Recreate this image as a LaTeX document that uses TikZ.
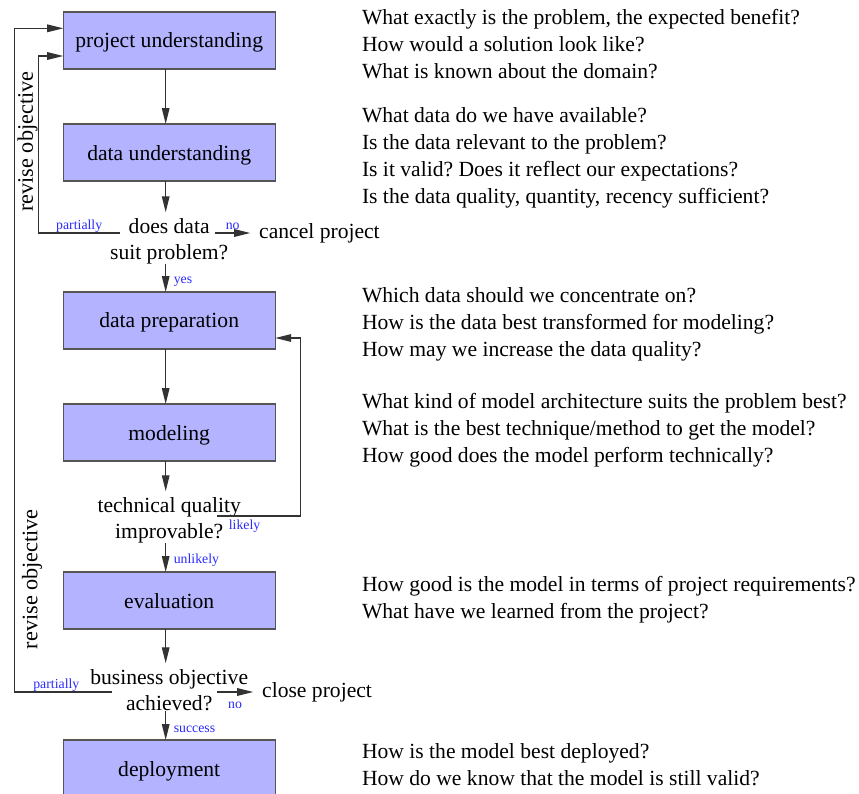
\documentclass[tikz,border=0pt]{standalone}
\usepackage{fontspec}
\setmainfont{Liberation Serif}
\usetikzlibrary{arrows.meta,positioning,calc}
\frenchspacing
\definecolor{phase}{HTML}{B3B3FF}
\definecolor{ink}{HTML}{333333}
\definecolor{edge}{HTML}{555555}
\definecolor{branch}{HTML}{2A2AFF}
\tikzset{
  >={Triangle[length=8pt,width=3.8pt]},
  every node/.style={font=\fontsize{10.8}{13.5}\selectfont,text=black},
  phasebox/.style={draw=edge,fill=phase,line width=0.6pt,minimum width=106pt,minimum height=28.5pt,inner sep=0pt,outer sep=0pt,text depth=0pt},
  decision/.style={align=center,inner xsep=3pt,inner ysep=0pt,outer sep=0pt,font=\fontsize{10.8}{13}\selectfont},
  outcome/.style={inner xsep=4.5pt,inner ysep=1pt,outer sep=0pt},
  questions/.style={align=left,inner sep=0pt},
  arrow/.style={->,line width=0.6pt,draw=ink},
  flow/.style={arrow,transform canvas={xshift=-1.75pt}},
  into/.style={flow,shorten >=3pt},
  tag/.style={font=\fontsize{6.9}{8}\selectfont,text=branch,inner sep=1.5pt},
  sidetag/.style={tag,right,xshift=2.25pt},
  revise/.style={sloped,inner sep=0pt,font=\fontsize{11.1}{13}\selectfont},
}

\begin{document}
\begin{tikzpicture}[node distance=27.5pt]
\useasboundingbox (0,0) rectangle (429.5pt,-397pt);

% phases
\node[phasebox] (pu) at (84.6pt,-20.25pt) {project understanding};
\node[phasebox,below=of pu] (du) {data understanding};
\node[decision,below=18.65pt of du] (dec1) {does data\\suit problem?};
\node[phasebox,below=55.5pt of du] (dp) {data preparation};
\node[phasebox,below=of dp] (mod) {modeling};
\node[decision,below=18.15pt of mod] (dec2) {technical quality\\improvable?};
\node[phasebox,below=55.5pt of mod] (ev) {evaluation};
\node[decision,below=20.15pt of ev] (dec3) {business objective\\achieved?};
\node[phasebox,below=55.5pt of ev] (dep) {deployment};

% branch ends at the decisions
\coordinate (d1l) at ([shift={(-24.5pt,-7.35pt)}]dec1.north);
\coordinate (d1r) at ([shift={(23pt,-7.35pt)}]dec1.north);
\coordinate (d2r) at ([shift={(24pt,-9.35pt)}]dec2.north);
\coordinate (d3l) at ([shift={(-28.5pt,-11.35pt)}]dec3.north);
\coordinate (d3r) at ([shift={(23.85pt,-11.35pt)}]dec3.north);

\node[outcome,right=17.5pt of d1r] (cancel) {cancel project};
\node[outcome,right=18.15pt of d3r] (close) {close project};

% main flow
\draw[flow] (pu.south) -- (du.north);
\draw[into] (du.south) -- (dec1.north);
\draw[flow] (dec1.south) -- node[sidetag,pos=0.62]{yes} (dp.north);
\draw[flow] (dp.south) -- (mod.north);
\draw[into] (mod.south) -- (dec2.north);
\draw[flow] (dec2.south) -- node[sidetag,pos=0.59]{unlikely} (ev.north);
\draw[into] (ev.south) -- (dec3.north);
\draw[flow] (dec3.south) -- node[sidetag,pos=0.62]{success} (dep.north);

% exits
\draw[arrow] (d1r) -- node[tag,above]{no} (cancel);
\draw[arrow] (d3r) -- node[tag,below,yshift=-3pt]{no} (close);

% loops back
\draw[arrow] (d1l) -- node[tag,above,inner sep=0pt]{partially} ++(-41pt,0) |- node[revise,above,pos=0.258]{revise objective} ([yshift=-7.75pt]pu.west);
\draw[arrow] (d3l) -- node[tag,above,pos=0.57,inner sep=0pt]{partially} ++(-49pt,0) |- node[revise,below,pos=0.085,inner sep=3.6pt]{revise objective} ([yshift=6.1pt]pu.west);
\draw[arrow] (d2r) -- node[tag,below,pos=0.33]{likely} ++(41.5pt,0) |- ([yshift=-8.75pt]dp.east);

% questions per phase
\node[questions,right=43.2pt of pu.north east,anchor=north west,yshift=1.7pt] (q1) {What exactly is the problem, the expected benefit?\\How would a solution look like?\\What is known about the domain?};
\node[questions,right=43.2pt of du.north east,anchor=north west,yshift=8.5pt] (q2) {What data do we have available?\\Is the data relevant to the problem?\\Is it valid? Does it reflect our expectations?\\Is the data quality, quantity, recency sufficient?};
\node[questions,right=43.2pt of dp.north east,anchor=north west,yshift=2.35pt] (q3) {Which data should we concentrate on?\\How is the data best transformed for modeling?\\How may we increase the data quality?};
\node[questions,right=43.2pt of mod.north east,anchor=north west,yshift=5.35pt] (q4) {What kind of model architecture suits the problem best?\\What is the best technique/method to get the model?\\How good does the model perform technically?};
\node[questions,right=43.2pt of ev.north east,anchor=north west,yshift=-2pt] (q5) {How good is the model in terms of project requirements?\\What have we learned from the project?};
\node[questions,right=43.2pt of dep.north east,anchor=north west,yshift=-1.65pt] (q6) {How is the model best deployed?\\How do we know that the model is still valid?};

\end{tikzpicture}
\end{document}
